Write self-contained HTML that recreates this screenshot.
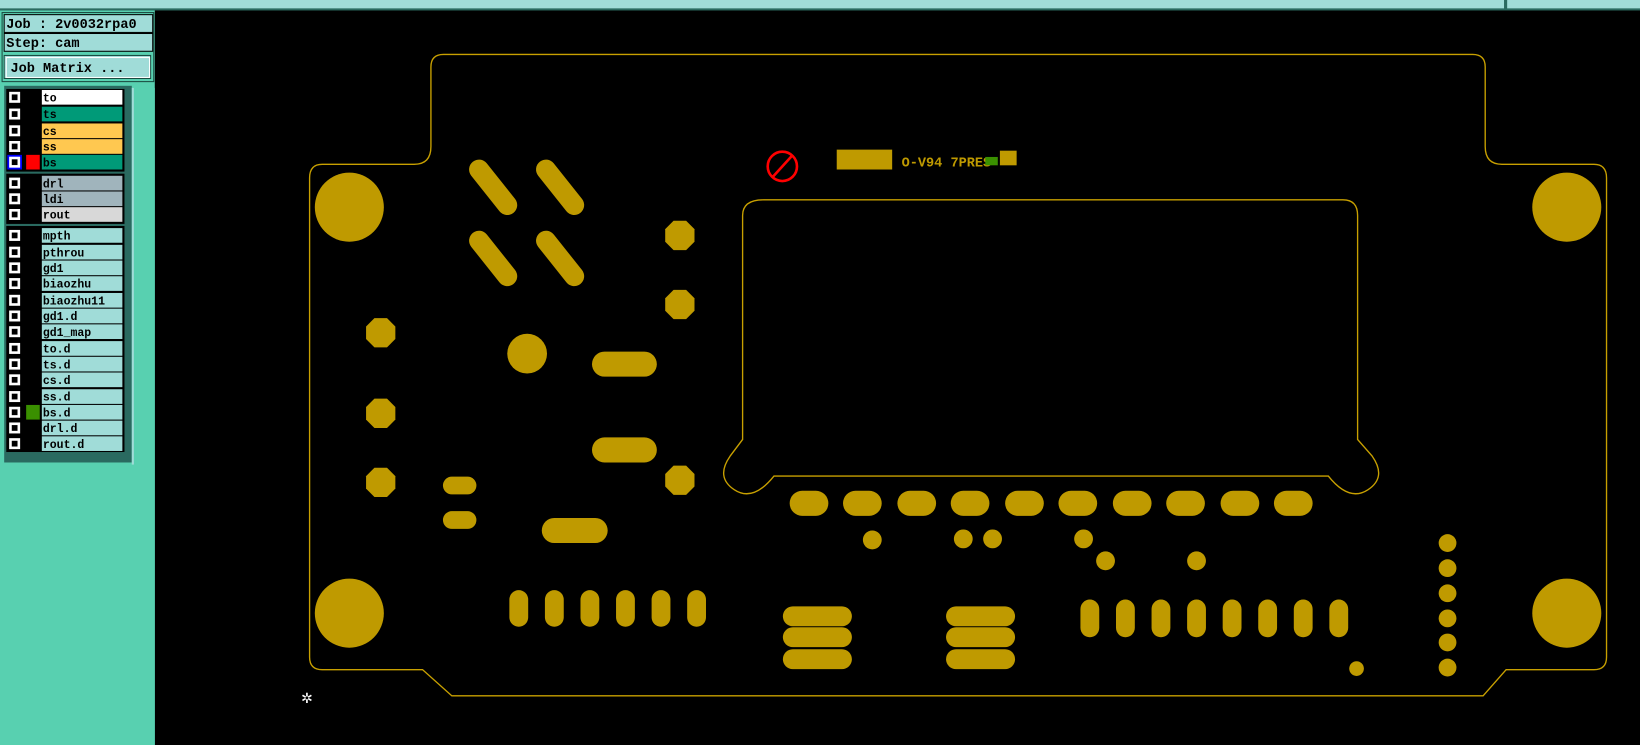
<!DOCTYPE html>
<html><head><style>
html,body{margin:0;padding:0;background:#000;width:1640px;height:745px;overflow:hidden}
svg{display:block}
text{font-family:"Liberation Mono",monospace;font-weight:bold}
</style></head><body>
<svg width="1640" height="745" viewBox="0 0 1568 712" preserveAspectRatio="none" xmlns="http://www.w3.org/2000/svg">
<rect width="1568" height="712" fill="#000"/>
<!-- top bar -->
<rect x="0" y="0" width="1568" height="9" fill="#a0dcd8"/>
<rect x="0" y="8" width="1568" height="2" fill="#2a6a60"/>
<rect x="1438" y="0" width="3" height="9" fill="#2a6a60"/>
<!-- left panel -->
<rect x="0" y="10" width="148" height="702" fill="#58d0b0"/>
<rect x="2" y="12" width="145" height="66" fill="#58d0b0" stroke="#1a4a40" stroke-width="1"/>
<rect x="4" y="14" width="142" height="17" fill="#a0dcd8" stroke="#000"/>
<text x="6" y="27" font-size="13">Job : 2v0032rpa0</text>
<rect x="4" y="32" width="142" height="17" fill="#a0dcd8" stroke="#000"/>
<text x="6" y="45" font-size="13">Step: cam</text>
<rect x="4" y="53" width="140" height="22" fill="#a0dcd8" stroke="#1a4a40"/>
<rect x="6" y="55" width="137" height="19" fill="none" stroke="#fff" stroke-width="1"/>
<text x="10" y="69" font-size="13">Job Matrix ...</text>
<rect x="4" y="82" width="122" height="360" fill="#2a6a60"/>
<rect x="128" y="84" width="20" height="628" fill="#58d0b0"/>
<rect x="126" y="84" width="2" height="360" fill="#a0dcd8"/>
<g id="rows">
<rect x="6" y="85" width="113" height="79" fill="#000"/>
<rect x="6" y="166" width="113" height="48" fill="#000"/>
<rect x="6" y="216" width="113" height="216" fill="#000"/>
</g>
<g font-size="11">
<!-- group1 -->
<rect x="40" y="86" width="77" height="14" fill="#fff"/><text x="41" y="97">to</text>
<rect x="40" y="102" width="77" height="14" fill="#009a78"/><text x="41" y="113">ts</text>
<rect x="40" y="118" width="77" height="14" fill="#ffc850"/><text x="41" y="129">cs</text>
<rect x="40" y="133" width="77" height="14" fill="#ffc850"/><text x="41" y="144">ss</text>
<rect x="40" y="148" width="77" height="14" fill="#009a78"/><text x="41" y="159">bs</text>
<rect x="25" y="148" width="13" height="14" fill="#f00"/>
<rect x="7" y="148" width="14" height="14" fill="#00f"/>
<rect x="40" y="168" width="77" height="14" fill="#a0b4bc"/><text x="41" y="179">drl</text>
<rect x="40" y="183" width="77" height="14" fill="#a0b4bc"/><text x="41" y="194">ldi</text>
<rect x="40" y="198" width="77" height="14" fill="#d8d8d8"/><text x="41" y="209">rout</text>
<g fill="#a0dcd8">
<rect x="40" y="218" width="77" height="14"/><rect x="40" y="234" width="77" height="14"/><rect x="40" y="249" width="77" height="14"/>
<rect x="40" y="264" width="77" height="14"/><rect x="40" y="280" width="77" height="14"/><rect x="40" y="295" width="77" height="14"/>
<rect x="40" y="310" width="77" height="14"/><rect x="40" y="326" width="77" height="14"/><rect x="40" y="341" width="77" height="14"/>
<rect x="40" y="356" width="77" height="14"/><rect x="40" y="372" width="77" height="14"/><rect x="40" y="387" width="77" height="14"/>
<rect x="40" y="402" width="77" height="14"/><rect x="40" y="417" width="77" height="14"/>
</g>
<rect x="25" y="387" width="13" height="14" fill="#3a9000"/>
<text x="41" y="229">mpth</text><text x="41" y="245">pthrou</text><text x="41" y="260">gd1</text>
<text x="41" y="275">biaozhu</text><text x="41" y="291">biaozhu11</text><text x="41" y="306">gd1.d</text>
<text x="41" y="321">gd1_map</text><text x="41" y="337">to.d</text><text x="41" y="352">ts.d</text>
<text x="41" y="367">cs.d</text><text x="41" y="383">ss.d</text><text x="41" y="398">bs.d</text>
<text x="41" y="413">drl.d</text><text x="41" y="428">rout.d</text>
</g>
<g fill="#000" stroke="#fff" stroke-width="2.5">
<rect x="10" y="89" width="8" height="8"/><rect x="10" y="105" width="8" height="8"/><rect x="10" y="121" width="8" height="8"/>
<rect x="10" y="136" width="8" height="8"/><rect x="10" y="151" width="8" height="8"/>
<rect x="10" y="171" width="8" height="8"/><rect x="10" y="186" width="8" height="8"/><rect x="10" y="201" width="8" height="8"/>
<rect x="10" y="221" width="8" height="8"/><rect x="10" y="237" width="8" height="8"/><rect x="10" y="252" width="8" height="8"/>
<rect x="10" y="267" width="8" height="8"/><rect x="10" y="283" width="8" height="8"/><rect x="10" y="298" width="8" height="8"/>
<rect x="10" y="313" width="8" height="8"/><rect x="10" y="329" width="8" height="8"/><rect x="10" y="344" width="8" height="8"/>
<rect x="10" y="359" width="8" height="8"/><rect x="10" y="375" width="8" height="8"/><rect x="10" y="390" width="8" height="8"/>
<rect x="10" y="405" width="8" height="8"/><rect x="10" y="420" width="8" height="8"/>
</g>
<!-- board outline -->
<path d="M424,52 H1408 Q1420,52 1420,64 V140 Q1420,157 1436,157 H1524 Q1536,157 1536,170 V628 Q1536,640 1524,640 H1440 L1418,665 H432 L404,640 H308 Q296,640 296,628 V170 Q296,157 308,157 H396 Q412,157 412,140 V64 Q412,52 424,52 Z" fill="none" stroke="#c8a000" stroke-width="1.3"/>
<!-- window -->
<path d="M730,191 H1284 Q1298,191 1298,206 V420 L1312,436 Q1326,456 1308,468 Q1290,480 1270,455 H740 Q720,480 702,468 Q684,456 698,436 L710,420 V206 Q710,191 730,191 Z" fill="none" stroke="#c8a000" stroke-width="1.3"/>
<g fill="#bf9a00">
<circle cx="334" cy="198" r="33"/><circle cx="1498" cy="198" r="33"/>
<circle cx="334" cy="586" r="33"/><circle cx="1498" cy="586" r="33"/>
<circle cx="504" cy="338" r="19"/>
</g>
<g stroke="#bf9a00" stroke-linecap="round" fill="none">
<g stroke-width="19"><line x1="458" y1="162" x2="485" y2="196"/><line x1="522" y1="162" x2="549" y2="196"/>
<line x1="458" y1="230" x2="485" y2="264"/><line x1="522" y1="230" x2="549" y2="264"/></g>
<g stroke-width="24"><line x1="578" y1="348" x2="616" y2="348"/><line x1="578" y1="430" x2="616" y2="430"/><line x1="530" y1="507" x2="569" y2="507"/></g>
<g stroke-width="17"><line x1="432" y1="464" x2="447" y2="464"/><line x1="432" y1="497" x2="447" y2="497"/></g>
<g stroke-width="18"><line x1="496" y1="573" x2="496" y2="590"/><line x1="530" y1="573" x2="530" y2="590"/><line x1="564" y1="573" x2="564" y2="590"/><line x1="598" y1="573" x2="598" y2="590"/><line x1="632" y1="573" x2="632" y2="590"/><line x1="666" y1="573" x2="666" y2="590"/>
<line x1="1042" y1="582" x2="1042" y2="600"/><line x1="1076" y1="582" x2="1076" y2="600"/><line x1="1110" y1="582" x2="1110" y2="600"/><line x1="1144" y1="582" x2="1144" y2="600"/><line x1="1178" y1="582" x2="1178" y2="600"/><line x1="1212" y1="582" x2="1212" y2="600"/><line x1="1246" y1="582" x2="1246" y2="600"/><line x1="1280" y1="582" x2="1280" y2="600"/></g>
<g stroke-width="24"><line x1="767" y1="481" x2="780" y2="481"/><line x1="818" y1="481" x2="831" y2="481"/><line x1="870" y1="481" x2="883" y2="481"/><line x1="921" y1="481" x2="934" y2="481"/><line x1="973" y1="481" x2="986" y2="481"/><line x1="1024" y1="481" x2="1037" y2="481"/><line x1="1076" y1="481" x2="1089" y2="481"/><line x1="1127" y1="481" x2="1140" y2="481"/><line x1="1179" y1="481" x2="1192" y2="481"/><line x1="1230" y1="481" x2="1243" y2="481"/></g>
<g stroke-width="19"><line x1="758" y1="589" x2="805" y2="589"/><line x1="758" y1="609" x2="805" y2="609"/><line x1="758" y1="630" x2="805" y2="630"/>
<line x1="914" y1="589" x2="961" y2="589"/><line x1="914" y1="609" x2="961" y2="609"/><line x1="914" y1="630" x2="961" y2="630"/></g>
</g>
<g fill="#bf9a00">
<circle cx="834" cy="516" r="9"/><circle cx="921" cy="515" r="9"/><circle cx="949" cy="515" r="9"/><circle cx="1036" cy="515" r="9"/>
<circle cx="1057" cy="536" r="9"/><circle cx="1144" cy="536" r="9"/>
<circle cx="1384" cy="519" r="8.5"/><circle cx="1384" cy="543" r="8.5"/><circle cx="1384" cy="567" r="8.5"/><circle cx="1384" cy="591" r="8.5"/><circle cx="1384" cy="614" r="8.5"/><circle cx="1384" cy="638" r="8.5"/>
<circle cx="1297" cy="639" r="7"/>
<!-- octagons -->
<polygon points="358,304 370,304 378,312 378,324 370,332 358,332 350,324 350,312" transform="translate(0,0)"/>
<polygon points="358,381 370,381 378,389 378,401 370,409 358,409 350,401 350,389"/>
<polygon points="358,447 370,447 378,455 378,467 370,475 358,475 350,467 350,455"/>
<polygon points="644,211 656,211 664,219 664,231 656,239 644,239 636,231 636,219"/>
<polygon points="644,277 656,277 664,285 664,297 656,305 644,305 636,297 636,285"/>
<polygon points="644,445 656,445 664,453 664,465 656,473 644,473 636,465 636,453"/>
<rect x="800" y="143" width="53" height="19"/>
</g>
<circle cx="748" cy="159" r="14" fill="none" stroke="#f00" stroke-width="2.5"/>
<line x1="738" y1="170" x2="758" y2="148" stroke="#f00" stroke-width="2.5"/>
<text x="862" y="159" font-size="13" fill="#bf9a00" font-weight="normal" font-family="Liberation Sans,sans-serif" transform="scale(1,1)">O-V94 7PRES</text>
<rect x="942" y="150" width="12" height="8" fill="#3a9000"/><rect x="956" y="144" width="16" height="14" fill="#bf9a00"/>
<text x="288" y="672" font-size="18" fill="#fff" font-weight="normal">✲</text>
</svg>
</body></html>
